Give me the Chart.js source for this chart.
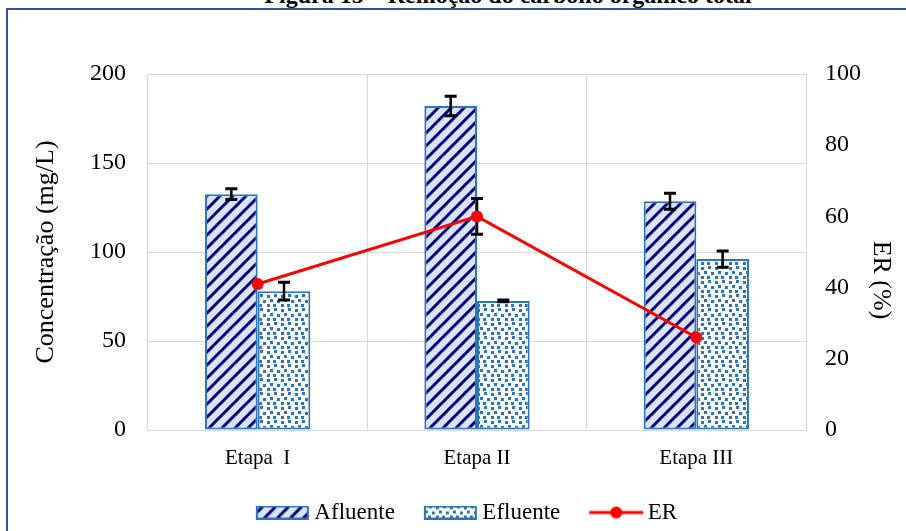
<!DOCTYPE html>
<html lang="pt">
<head>
    <meta charset="UTF-8">
    <title>Remoção do carbono orgânico total</title>
    <script src="https://cdn.jsdelivr.net/npm/chart.js"></script>
    <style>
        body { margin: 0; background: #fff; overflow: hidden; }
        #figTitle {
            position: absolute; left: 0; top: -17px; width: 1016px;
            text-align: center; white-space: nowrap;
            font: bold 24px/24px "Liberation Serif", "Times New Roman", serif;
        }
        #frame {
            position: absolute; left: 6px; top: 8px; width: 1000px; height: 600px;
            border: 2px solid #2F5597; pointer-events: none;
        }
        #wrap { position: absolute; left: 0; top: 0; width: 906px; height: 531px; }
    </style>
</head>
<body>
    <div id="figTitle">Figura 15 – Remoção do carbono orgânico total</div>
    <div id="wrap"><canvas id="myChart" width="906" height="531"></canvas></div>
    <div id="frame"></div>

    <script>
        'use strict';
        // data
        var etapas = ['Etapa  I', 'Etapa II', 'Etapa III'];
        var afluente = [132.5, 182, 128.5];
        var afluenteErr = [3, 5.5, 4.5];
        var efluente = [78, 72.5, 96];
        var efluenteErr = [5, 0.5, 4.5];
        var er = [41, 60, 26];
        var erErr = [0, 5, 0];
        var concTicks = [0, 50, 100, 150, 200];
        var erTicks = [0, 20, 40, 60, 80, 100];

        var serif = "'Liberation Serif', 'Times New Roman', serif";

        // fill patterns
        function stripeTile() {
            var c = document.createElement('canvas');
            c.width = 13; c.height = 13;
            var g = c.getContext('2d');
            g.fillStyle = '#DAE3F3';
            g.fillRect(0, 0, 13, 13);
            g.strokeStyle = '#000080';
            g.lineWidth = 3;
            g.beginPath();
            for (var k = -1; k <= 1; k++) {
                g.moveTo(k * 13 - 1, 14);
                g.lineTo(k * 13 + 14, -1);
            }
            g.stroke();
            return c;
        }
        function confettiTile() {
            var c = document.createElement('canvas');
            c.width = 14; c.height = 14;
            var g = c.getContext('2d');
            g.fillStyle = '#ffffff';
            g.fillRect(0, 0, 14, 14);
            g.fillStyle = '#2E75B6';
            [[1, 1], [8, 0], [4, 5], [11, 6], [1, 10], [7, 10]].forEach(function (p) {
                g.fillRect(p[0], p[1], 3, 3);
            });
            return c;
        }
        var stripes = stripeTile();
        var confetti = confettiTile();

        // legend icons: 100px wide canvas, visible part from x=31 to x=84
        function boxIcon(tile) {
            var c = document.createElement('canvas');
            c.width = 100; c.height = 14;
            var g = c.getContext('2d');
            g.fillStyle = g.createPattern(tile, 'repeat');
            g.fillRect(31, 0, 53, 14);
            g.strokeStyle = '#2E75B6';
            g.lineWidth = 2;
            g.strokeRect(32, 1, 51, 12);
            return c;
        }
        function lineIcon() {
            var c = document.createElement('canvas');
            c.width = 100; c.height = 14;
            var g = c.getContext('2d');
            g.strokeStyle = '#FF0000';
            g.lineWidth = 3;
            g.beginPath(); g.moveTo(31, 7); g.lineTo(85, 7); g.stroke();
            g.fillStyle = '#FF0000';
            g.beginPath(); g.arc(58, 7, 6, 0, Math.PI * 2); g.fill();
            return c;
        }
        var legendIcons = [boxIcon(stripes), boxIcon(confetti), lineIcon()];

        function drawErrors(chart, index) {
            var ds = chart.data.datasets[index];
            if (!ds.errors) return;
            var meta = chart.getDatasetMeta(index);
            var scale = chart.scales[meta.yAxisID];
            var ctx = chart.ctx;
            ctx.save();
            ctx.strokeStyle = '#000';
            meta.data.forEach(function (el, j) {
                var e = ds.errors[j];
                if (!e) return;
                var yTop = scale.getPixelForValue(ds.data[j] + e);
                var yBot = scale.getPixelForValue(ds.data[j] - e);
                ctx.lineWidth = 2.5;
                ctx.beginPath();
                ctx.moveTo(el.x, yTop); ctx.lineTo(el.x, yBot);
                ctx.stroke();
                ctx.lineWidth = 3;
                ctx.beginPath();
                ctx.moveTo(el.x - 6, yTop); ctx.lineTo(el.x + 6, yTop);
                ctx.moveTo(el.x - 6, yBot); ctx.lineTo(el.x + 6, yBot);
                ctx.stroke();
            });
            ctx.restore();
        }

        var errorBars = {
            id: 'errorBars',
            beforeDatasetDraw: function (chart, args) {
                if (chart.data.datasets[args.index].type === 'line') drawErrors(chart, args.index);
            },
            afterDatasetDraw: function (chart, args) {
                if (chart.data.datasets[args.index].type !== 'line') drawErrors(chart, args.index);
            }
        };

        // right axis title sits a bit below the middle in the original
        var rightTitle = {
            id: 'rightTitle',
            afterDraw: function (chart) {
                var s = chart.scales.y1;
                var ctx = chart.ctx;
                ctx.save();
                ctx.translate(s.right - 25, (s.top + s.bottom) / 2 + 28);
                ctx.rotate(Math.PI / 2);
                ctx.font = '26px ' + serif;
                ctx.fillStyle = '#000';
                ctx.textAlign = 'center';
                ctx.textBaseline = 'middle';
                ctx.fillText('ER (%)', 0, 0);
                ctx.restore();
            }
        };

        var ctx = document.getElementById('myChart').getContext('2d');
        var myChart = new Chart(ctx, {
            type: 'bar',
            data: {
                labels: etapas,
                datasets: [{
                    label: 'Afluente',
                    data: afluente,
                    errors: afluenteErr,
                    backgroundColor: ctx.createPattern(stripes, 'repeat'),
                    borderColor: '#2E75B6',
                    borderWidth: 2,
                    borderSkipped: false,
                    yAxisID: 'y',
                    order: 1
                }, {
                    label: 'Efluente',
                    data: efluente,
                    errors: efluenteErr,
                    backgroundColor: ctx.createPattern(confetti, 'repeat'),
                    borderColor: '#2E75B6',
                    borderWidth: 2,
                    borderSkipped: false,
                    yAxisID: 'y',
                    order: 1
                }, {
                    type: 'line',
                    label: 'ER',
                    data: er,
                    errors: erErr,
                    borderColor: '#FF0000',
                    backgroundColor: '#FF0000',
                    borderWidth: 3,
                    pointRadius: 6,
                    pointBorderWidth: 0,
                    yAxisID: 'y1',
                    order: 0
                }]
            },
            options: {
                responsive: false,
                animation: false,
                devicePixelRatio: 1,
                categoryPercentage: 0.48,
                barPercentage: 1,
                layout: { padding: { left: 18, right: 0, top: 74, bottom: -3 } },
                scales: {
                    x: {
                        grid: { color: '#D9D9D9', drawTicks: false, offset: true },
                        border: { color: '#D9D9D9' },
                        ticks: { color: '#000', font: { family: serif, size: 21 }, padding: 16 },
                        afterFit: function (s) { s.height = 51; }
                    },
                    y: {
                        position: 'left',
                        min: concTicks[0],
                        max: concTicks[concTicks.length - 1],
                        afterBuildTicks: function (s) { s.ticks = concTicks.map(function (v) { return { value: v }; }); },
                        grid: { color: '#D9D9D9', drawTicks: false },
                        border: { display: false },
                        ticks: { color: '#000', font: { family: serif, size: 24 }, padding: 22 },
                        title: {
                            display: true, text: 'Concentração (mg/L)', color: '#000',
                            font: { family: serif, size: 26 }, padding: { top: 13 }
                        },
                        afterFit: function (s) { s.width = 130; }
                    },
                    y1: {
                        position: 'right',
                        min: erTicks[0],
                        max: erTicks[erTicks.length - 1],
                        afterBuildTicks: function (s) { s.ticks = erTicks.map(function (v) { return { value: v }; }); },
                        grid: { drawOnChartArea: false, drawTicks: false },
                        border: { display: false },
                        ticks: { color: '#000', font: { family: serif, size: 24 }, padding: 19 },
                        afterFit: function (s) { s.width = 100; }
                    }
                },
                plugins: {
                    tooltip: { enabled: false },
                    legend: {
                        position: 'bottom',
                        labels: {
                            color: '#000',
                            font: { family: serif, size: 23 },
                            usePointStyle: true,
                            pointStyleWidth: 56,
                            padding: 20,
                            generateLabels: function (chart) {
                                return chart.data.datasets.map(function (ds, i) {
                                    return {
                                        text: ds.label,
                                        pointStyle: legendIcons[i],
                                        datasetIndex: i,
                                        hidden: false,
                                        lineWidth: 0,
                                        fillStyle: 'transparent',
                                        strokeStyle: 'transparent',
                                        fontColor: '#000'
                                    };
                                });
                            }
                        }
                    }
                }
            },
            plugins: [errorBars, rightTitle]
        });
    </script>
</body>
</html>
